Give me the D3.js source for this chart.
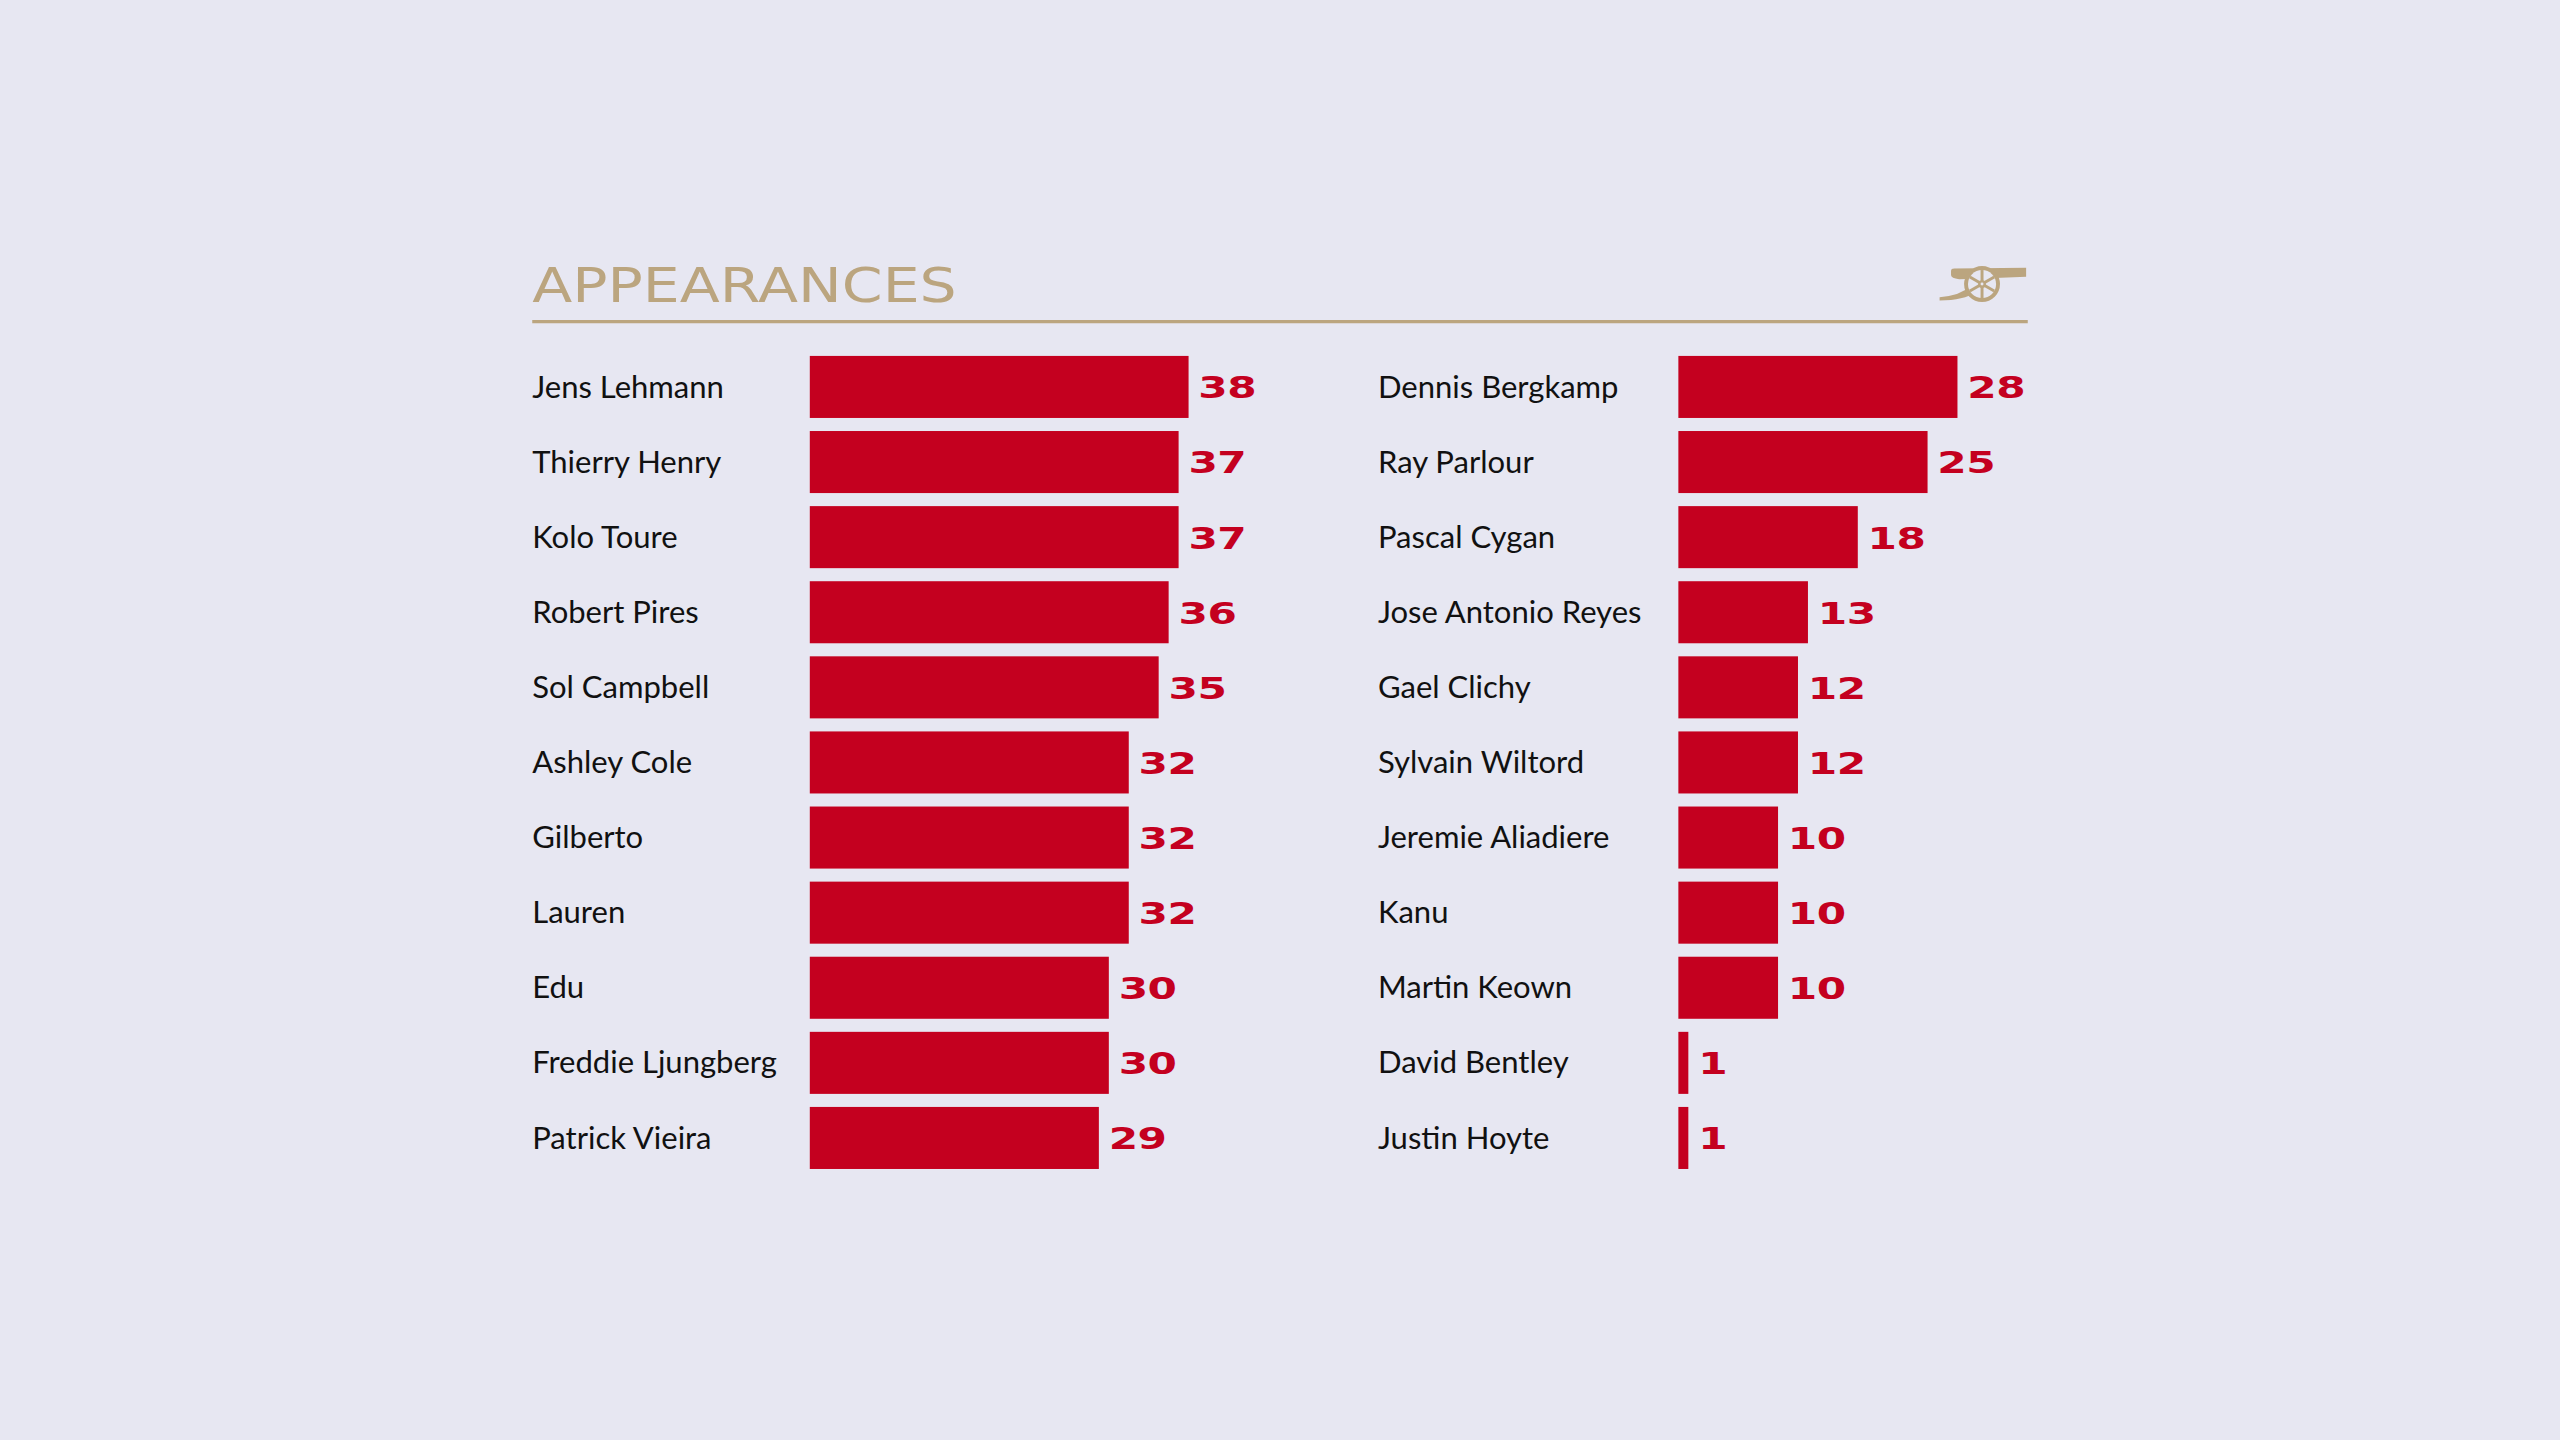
<!DOCTYPE html>
<html>
<head>
<meta charset="utf-8">
<script src="https://cdn.jsdelivr.net/npm/d3@7"></script>
<style>
  html, body { margin: 0; padding: 0; background: #e7e7f2; }
  svg { display: block; }
</style>
</head>
<body>
<div id="chart"></div>
<script>
// appearances, two columns
const leftNames = ["Jens Lehmann", "Thierry Henry", "Kolo Toure", "Robert Pires", "Sol Campbell",
  "Ashley Cole", "Gilberto", "Lauren", "Edu", "Freddie Ljungberg", "Patrick Vieira"];
const leftValues = [38, 37, 37, 36, 35, 32, 32, 32, 30, 30, 29];
const rightNames = ["Dennis Bergkamp", "Ray Parlour", "Pascal Cygan", "Jose Antonio Reyes", "Gael Clichy",
  "Sylvain Wiltord", "Jeremie Aliadiere", "Kanu", "Martin Keown", "David Bentley", "Justin Hoyte"];
const rightValues = [28, 25, 18, 13, 12, 12, 10, 10, 10, 1, 1];
const title = "APPEARANCES";

const W = 1568, H = 882;
const bg = "#e7e7f2", red = "#c4001f", gold = "#bba57f";

const svg = d3.select('#chart').append('svg')
  .attr('width', 2560).attr('height', 1440)
  .attr('viewBox', `0 0 ${W} ${H}`);

svg.append('rect').attr('width', W).attr('height', H).attr('fill', bg);

svg.append('text')
  .attr('x', 326).attr('y', 185)
  .attr('fill', gold)
  .attr('font-family', 'DejaVu Sans')
  .attr('font-size', 29)
  .attr('textLength', 260)
  .attr('lengthAdjust', 'spacingAndGlyphs')
  .text(title);

svg.append('line')
  .attr('x1', 326).attr('x2', 1242)
  .attr('y1', 197).attr('y2', 197)
  .attr('stroke', gold).attr('stroke-width', 2);

// cannon
const cannon = svg.append('g').attr('transform', 'translate(1188,163)').attr('fill', gold);
cannon.append('path').attr('d', 'M7,3 Q7,1.5 9,1.5 L53,1 L53,6.5 L30,7.5 L12,8 Q7,7.5 7,5.5 Z');
cannon.append('path').attr('d', 'M19,12 Q13,18 0,19 L0,21 Q15,21 22,16 Z');
cannon.append('circle').attr('cx', 26).attr('cy', 11).attr('r', 11);
cannon.append('circle').attr('cx', 26).attr('cy', 11).attr('r', 8.6).attr('fill', bg);
const spokes = cannon.append('g').attr('stroke', gold).attr('stroke-width', 1.8).attr('fill', 'none');
d3.range(6).forEach(i => {
  const a = i * Math.PI / 3 + Math.PI / 6;
  spokes.append('line').attr('x1', 26).attr('y1', 11)
    .attr('x2', 26 + 8.6 * Math.cos(a)).attr('y2', 11 + 8.6 * Math.sin(a));
});
cannon.append('circle').attr('cx', 26).attr('cy', 11).attr('r', 2.4);
cannon.append('circle').attr('cx', 26).attr('cy', 11).attr('r', 0.9).attr('fill', bg);

const x = d3.scaleLinear().domain([0, 38]).range([0, 232]);

function column(names, values, nameX, barX) {
  const y = d3.scaleBand().domain(d3.range(names.length))
    .range([214, 214 + 46 * names.length])
    .paddingInner(8 / 46).paddingOuter(4 / 46);
  const g = svg.append('g');
  const rows = g.selectAll('.row').data(names.map((n, i) => ({name: n, value: values[i], i})))
    .enter().append('g').attr('class', 'row')
    .attr('transform', d => `translate(0,${y(d.i)})`);
  rows.append('text')
    .attr('x', nameX).attr('y', y.bandwidth() / 2 + 6.5)
    .attr('font-family', 'Lato').attr('font-size', 19).attr('fill', '#111')
    .text(d => d.name);
  rows.append('rect')
    .attr('x', barX).attr('y', 0)
    .attr('width', d => x(d.value)).attr('height', y.bandwidth())
    .attr('fill', red);
  // wide squared digits: stretch horizontally
  rows.append('text')
    .attr('transform', d => `translate(${barX + x(d.value) + 6},${y.bandwidth() / 2 + 7}) scale(1.4,1)`)
    .attr('font-family', 'DejaVu Sans').attr('font-weight', 'bold')
    .attr('font-size', 18.5).attr('letter-spacing', -0.2).attr('fill', red)
    .text(d => d.value);
}

column(leftNames, leftValues, 326, 496);
column(rightNames, rightValues, 844, 1028);
</script>
</body>
</html>
